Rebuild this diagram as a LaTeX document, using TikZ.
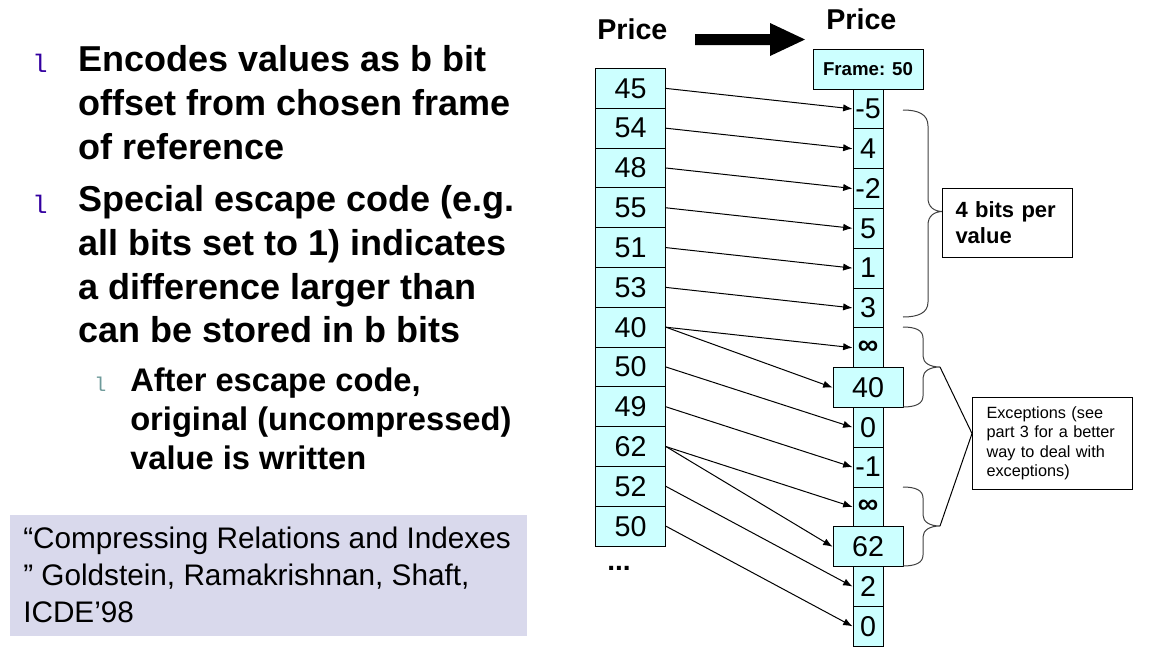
\documentclass[tikz,border=0pt]{standalone}
\usepackage{fontspec}
\setmainfont{Liberation Sans}
\newfontfamily\bulletfont{Liberation Mono}
\usetikzlibrary{arrows.meta}
\definecolor{cellfill}{HTML}{CCFFFF}
\definecolor{citefill}{HTML}{D9D9EC}
\definecolor{bulletpurple}{HTML}{3300A0}
\definecolor{subgray}{HTML}{6E9A9A}
\definecolor{bracegray}{HTML}{404040}
\begin{document}
\begin{tikzpicture}[x=0.75pt,y=-0.75pt,
  cellbase/.style={draw=black, line width=0.75pt, fill=cellfill, inner sep=0pt,
    minimum height=29.85pt, font=\fontsize{21.5}{24}\selectfont},
  lcell/.style={cellbase, minimum width=52.5pt},
  ncell/.style={cellbase, minimum width=22.5pt},
  wcell/.style={cellbase, minimum width=52.5pt},
  conn/.style={line width=0.75pt, -{Latex[length=7pt,width=5.5pt]}},
  bracepath/.style={draw=bracegray, line width=0.75pt},
  txtline/.style={anchor=base west, inner sep=0pt},
  bigtxt/.style={txtline, font=\fontsize{27}{33}\selectfont\bfseries},
  subtxt/.style={txtline, font=\fontsize{24.5}{29}\selectfont\bfseries},
  bul/.style={txtline, font=\fontsize{19}{21}\bulletfont, text=bulletpurple},
  subbul/.style={txtline, font=\fontsize{15}{17}\bulletfont, text=subgray},
  citetxt/.style={txtline, font=\fontsize{22.3}{26}\selectfont},
  pricetxt/.style={txtline, font=\fontsize{21.5}{24}\selectfont\bfseries},
]
\useasboundingbox (0,0) rectangle (1154,658);

% ---------------- left text ----------------
\node[bul] (b1) at (32,72) {l};
\node[bigtxt] (t1) at (78,71) {Encodes values as b bit};
\node[bigtxt] (t2) at (78,115) {offset from chosen frame};
\node[bigtxt] (t3) at (78,159) {of reference};
\node[bul] (b2) at (32,213) {l};
\node[bigtxt] (t4) at (78,211) {Special escape code (e.g.};
\node[bigtxt] (t5) at (78,255) {all bits set to 1) indicates};
\node[bigtxt] (t6) at (78,299) {a difference larger than};
\node[bigtxt] (t7) at (78,342) {can be stored in b bits};
\node[subbul] (b3) at (94,391) {l};
\node[subtxt] (t8) at (130,391) {After escape code,};
\node[subtxt] (t9) at (130,430) {original (uncompressed)};
\node[subtxt] (t10) at (130,469) {value is written};

% ---------------- citation ----------------
\fill[citefill] (10,515) rectangle (527,636);
\node[citetxt] (c1) at (23,548) {“Compressing Relations and Indexes};
\node[citetxt] (c2) at (23,585) {” Goldstein, Ramakrishnan, Shaft,};
\node[citetxt] (c3) at (23,622) {ICDE’98};

% ---------------- headers ----------------
\node[pricetxt] (p1) at (597,39) {Price};
\node[pricetxt] (p2) at (826,29) {Price};
\fill[black] (695,34) -- (770,34) -- (770,23) -- (805,39.5) -- (770,56) -- (770,45) -- (695,45) -- cycle;

\node[cellbase, minimum width=82.5pt, minimum height=30pt, font=\fontsize{14}{16}\selectfont\bfseries] (frame) at (868,69) {Frame: 50};

% ---------------- left column ----------------
\foreach \v [count=\k from 0] in {45,54,48,55,51,53,40,50,49,62,52,50}{
  \node[lcell] (L\k) at (630.5,{88.4+39.8*\k}) {\v};
}
\node[txtline, font=\fontsize{21}{24}\selectfont\bfseries] (dots) at (607,570) {...};

% ---------------- right column ----------------
\foreach \v [count=\j from 0] in {-5,4,-2,5,1,3,{\bfseries ∞},,0,-1,{\bfseries ∞},,2,0}{
  \node[ncell] (R\j) at (868,{108.9+39.8*\j}) {\v};
}
\node[wcell] (R7) at (868,387.5) {40};
\node[wcell] (R11) at (868,546.7) {62};

% ---------------- connectors ----------------
\draw[conn] (L0.east) -- (R0.west);
\draw[conn] (L1.east) -- (R1.west);
\draw[conn] (L2.east) -- (R2.west);
\draw[conn] (L3.east) -- (R3.west);
\draw[conn] (L4.east) -- (R4.west);
\draw[conn] (L5.east) -- (R5.west);
\draw[conn] (L6.east) -- (R6.west);
\draw[conn] (L6.east) -- (R7.west);
\draw[conn] (L7.east) -- (R8.west);
\draw[conn] (L8.east) -- (R9.west);
\draw[conn] (L9.east) -- (R10.west);
\draw[conn] (L9.east) -- (R11.west);
\draw[conn] (L10.east) -- (R12.west);
\draw[conn] (L11.east) -- (R13.west);

% ---------------- braces ----------------
\draw[bracepath] (903,110) .. controls (918,110) and (928,114) .. (928,126) -- (928,198)
  .. controls (928,207) and (934,211.5) .. (943,211.5)
  .. controls (934,211.5) and (928,216) .. (928,225) -- (928,302)
  .. controls (928,313) and (918,317) .. (903,317);
\coordinate (tip1) at (943,211.5);
\draw[bracepath] (903,327) .. controls (915,327) and (923,330) .. (923,338) -- (923,356)
  .. controls (923,363) and (930,367) .. (940,367)
  .. controls (930,367) and (923,371) .. (923,378) -- (923,396)
  .. controls (923,404) and (915,407) .. (903,407);
\coordinate (tip2) at (940,367);
\draw[bracepath] (903,487) .. controls (915,487) and (923,490) .. (923,498) -- (923,515)
  .. controls (923,522) and (930,526) .. (940,526)
  .. controls (930,526) and (923,530) .. (923,537) -- (923,555)
  .. controls (923,563) and (915,566) .. (903,566);
\coordinate (tip3) at (940,526);

% ---------------- annotation boxes ----------------
\node[draw=black, line width=0.75pt, fill=white, anchor=north west, inner xsep=9.75pt, inner ysep=0pt,
  text width=78pt, minimum height=51.75pt, align=left,
  font=\fontsize{16.5}{19.5}\selectfont\bfseries] (bits) at (942,188) {4 bits per\\value};
\node[draw=black, line width=0.75pt, fill=white, anchor=north west, inner xsep=10.5pt, inner ysep=0pt,
  text width=99pt, minimum height=69pt, align=left,
  font=\fontsize{12.2}{14.6}\selectfont] (exc) at (972,397) {Exceptions (see\\part 3 for a better\\way to deal with\\exceptions)};
\coordinate (excin) at ([yshift=7.5pt]exc.west);
\draw[line width=0.75pt] (tip2) -- (excin) -- (tip3);
\end{tikzpicture}
\end{document}
